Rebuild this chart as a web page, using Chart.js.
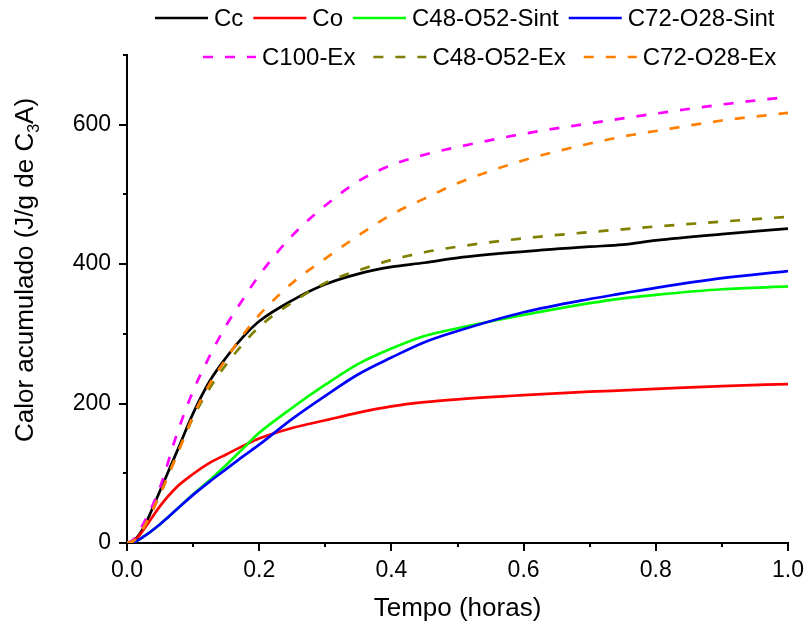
<!DOCTYPE html>
<html>
<head>
<meta charset="utf-8">
<script src="https://cdn.jsdelivr.net/npm/chart.js@4.4.1/dist/chart.umd.min.js"></script>
<style>
    html, body { margin: 0; padding: 0; background: #fff; }
</style>
</head>
<body>
<canvas id="calorChart" width="806" height="624"></canvas>
<script>
// Time (hours) where every curve was read
const tempo = [0, 0.01, 0.025, 0.05, 0.075, 0.1, 0.125, 0.15, 0.175, 0.2, 0.25, 0.3, 0.35, 0.4, 0.45, 0.5, 0.6, 0.7, 0.75, 0.8, 0.9, 1.0];

// Accumulated heat (J/g de C3A)
const cc        = [0, 3, 22, 75, 130, 186, 232, 266, 295, 318, 348, 371, 386, 396, 402, 409, 418, 425, 428, 434, 443, 451];
const co        = [0, 2, 19, 53, 80, 99, 115, 127, 139, 150, 165, 176, 187, 196, 202, 206, 212, 217, 219, 221, 225, 228];
const c48Sint   = [0, 1, 9, 27, 48, 70, 90, 112, 135, 158, 194, 227, 257, 279, 297, 308, 327, 344, 351, 356, 364, 368];
const c72Sint   = [0, 1, 9, 27, 48, 69, 88, 106, 124, 141, 178, 211, 242, 266, 288, 304, 331, 350, 358, 366, 380, 390];
const c100Ex    = [0, 5, 28, 80, 155, 218, 268, 312, 349, 384, 441, 484, 519, 542, 557, 568, 587, 602, 609, 616, 629, 640];
const c48Ex     = [0, 3, 22, 70, 126, 180, 222, 256, 285, 310, 345, 373, 391, 406, 417, 425, 437, 446, 450, 454, 461, 468];
const c72Ex     = [0, 3, 22, 70, 125, 182, 228, 264, 298, 327, 373, 408, 441, 471, 494, 516, 549, 573, 583, 591, 606, 617];

// Axis ticks
const xTicks = [0, 0.2, 0.4, 0.6, 0.8, 1.0];
const yTicks = [0, 200, 400, 600];

const FONT = '"Liberation Sans", Arial, sans-serif';
const DASH = [10, 12];

// Series definitions (legend order)
const SERIES = [
    { label: 'Cc',           data: cc,      color: '#000000', dashed: false },
    { label: 'Co',           data: co,      color: '#ff0000', dashed: false },
    { label: 'C48-O52-Sint', data: c48Sint, color: '#00ff00', dashed: false },
    { label: 'C72-O28-Sint', data: c72Sint, color: '#0000ff', dashed: false },
    { label: 'C100-Ex',      data: c100Ex,  color: '#ff00ff', dashed: true },
    { label: 'C48-O52-Ex',   data: c48Ex,   color: '#808000', dashed: true },
    { label: 'C72-O28-Ex',   data: c72Ex,   color: '#ff8000', dashed: true },
];

// Build a dataset from one series
function makeDataset(s, index) {
    return {
        label: s.label,
        data: tempo.map((t, i) => ({ x: t, y: s.data[i] })),
        borderColor: s.color,
        backgroundColor: s.color,
        borderWidth: 2.7,
        borderDash: s.dashed ? DASH : [],
        pointRadius: 0,
        fill: false,
        cubicInterpolationMode: 'monotone',
        order: SERIES.length - index // later series on top
    };
}

// Draw tick marks (major + minor), axis titles and legend
const decorPlugin = {
    id: 'decor',
    afterDraw(chart) {
        const ctx = chart.ctx;
        const area = chart.chartArea;
        const xs = chart.scales.x;
        const ys = chart.scales.y;

        ctx.save();
        ctx.strokeStyle = '#000';
        ctx.lineWidth = 2;

        // x ticks, outward
        for (let i = 0; i <= 10; i++) {
            const px = Math.round(xs.getPixelForValue(i / 10));
            const len = i % 2 === 0 ? 8 : 4;
            ctx.beginPath();
            ctx.moveTo(px, area.bottom);
            ctx.lineTo(px, area.bottom + len);
            ctx.stroke();
        }

        // y ticks, outward
        for (let v = 0; v <= 700; v += 100) {
            const py = Math.round(ys.getPixelForValue(v));
            const len = v % 200 === 0 ? 8 : 4;
            ctx.beginPath();
            ctx.moveTo(area.left - len, py);
            ctx.lineTo(area.left, py);
            ctx.stroke();
        }

        // x title
        ctx.fillStyle = '#000';
        ctx.font = `26px ${FONT}`;
        ctx.textAlign = 'center';
        ctx.textBaseline = 'alphabetic';
        ctx.fillText('Tempo (horas)', (area.left + area.right) / 2, 616);

        // y title with subscript
        const part1 = 'Calor acumulado (J/g de C';
        const sub = '3';
        const part2 = 'A)';
        ctx.font = `26px ${FONT}`;
        const w1 = ctx.measureText(part1).width;
        const w3 = ctx.measureText(part2).width;
        ctx.font = `16px ${FONT}`;
        const w2 = ctx.measureText(sub).width;
        const total = w1 + w2 + w3;
        ctx.translate(33, 270);
        ctx.rotate(-Math.PI / 2);
        ctx.textAlign = 'left';
        let cx = -total / 2;
        ctx.font = `26px ${FONT}`;
        ctx.fillText(part1, cx, 0);
        cx += w1;
        ctx.font = `16px ${FONT}`;
        ctx.fillText(sub, cx, 6);
        cx += w2;
        ctx.font = `26px ${FONT}`;
        ctx.fillText(part2, cx, 0);
        ctx.restore();

        // legend, two rows
        const rows = [
            { y: 18, x: 155, gap: 10, items: SERIES.slice(0, 4) },
            { y: 57, x: 203, gap: 18, items: SERIES.slice(4) },
        ];
        ctx.save();
        ctx.font = `24px ${FONT}`;
        ctx.textBaseline = 'middle';
        ctx.textAlign = 'left';
        rows.forEach(row => {
            let x = row.x;
            row.items.forEach(s => {
                ctx.strokeStyle = s.color;
                ctx.lineWidth = 2.7;
                ctx.setLineDash(s.dashed ? DASH : []);
                ctx.beginPath();
                ctx.moveTo(x, row.y);
                ctx.lineTo(x + 53, row.y);
                ctx.stroke();
                ctx.setLineDash([]);
                x += 59;
                ctx.fillStyle = '#000';
                ctx.fillText(s.label, x, row.y + 1);
                x += ctx.measureText(s.label).width + row.gap;
            });
        });
        ctx.restore();
    }
};

new Chart(document.getElementById('calorChart'), {
    type: 'line',
    data: { datasets: SERIES.map(makeDataset) },
    options: {
        responsive: false,
        animation: false,
        layout: { padding: { top: 55, right: 18, left: 0, bottom: 0 } },
        plugins: {
            legend: { display: false },
            tooltip: { enabled: false }
        },
        scales: {
            x: {
                type: 'linear',
                min: 0,
                max: 1,
                afterBuildTicks: scale => { scale.ticks = xTicks.map(v => ({ value: v })); },
                afterFit: scale => {
                    scale.height = 81;
                    scale.paddingLeft = 0;
                    scale.paddingRight = 0;
                },
                ticks: {
                    color: '#000',
                    font: { family: FONT, size: 23 },
                    padding: 14,
                    maxRotation: 0,
                    autoSkip: false,
                    callback: v => v.toFixed(1)
                },
                grid: { display: true, drawOnChartArea: false, drawTicks: false },
                border: { display: true, color: '#000', width: 2 }
            },
            y: {
                type: 'linear',
                min: 0,
                max: 700,
                afterBuildTicks: scale => { scale.ticks = yTicks.map(v => ({ value: v })); },
                afterFit: scale => {
                    scale.width = 127;
                    scale.paddingTop = 0;
                    scale.paddingBottom = 0;
                },
                ticks: {
                    color: '#000',
                    font: { family: FONT, size: 23 },
                    padding: 16,
                    callback: v => String(v)
                },
                grid: { display: true, drawOnChartArea: false, drawTicks: false },
                border: { display: true, color: '#000', width: 2 }
            }
        }
    },
    plugins: [decorPlugin]
});
</script>
</body>
</html>
